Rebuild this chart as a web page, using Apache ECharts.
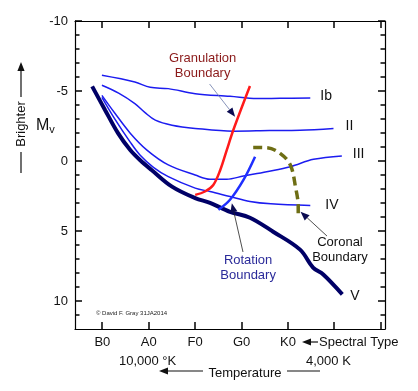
<!DOCTYPE html>
<html><head><meta charset="utf-8">
<script src="https://cdn.jsdelivr.net/npm/echarts@6/dist/echarts.min.js"></script>
<style>html,body{margin:0;padding:0;background:#fff}#c{width:418px;height:391px}</style>
</head><body><div id="c"></div>
<script>
// Spectral type axis (B0=0, A0=1, F0=2, G0=3, K0=4, ...)
const spectralTicks = [0, 1, 2, 3, 4, 5, 6];
const spectralLabels = ['B0', 'A0', 'F0', 'G0', 'K0', '', ''];
const magMajorTicks = [-10, -5, 0, 5, 10];
const magMinorTicks = [-9, -8, -7, -6, -4, -3, -2, -1, 1, 2, 3, 4, 6, 7, 8, 9, 11];

// Luminosity classes: [spectral, Mv]
const classIb = [[-0.01,-6.12],[0.70,-5.64],[1.03,-5.26],[1.42,-5.17],[2.0,-4.81],[2.75,-4.62],[3.33,-4.46],[3.83,-4.48],[4.48,-4.50]];
const classII = [[-0.01,-5.41],[0.35,-4.85],[0.70,-4.10],[0.92,-3.45],[1.14,-2.92],[1.50,-2.56],[2.0,-2.33],[2.82,-2.13],[3.6,-2.17],[4.26,-2.20],[4.98,-2.33]];
const classIII = [[-0.01,-4.69],[0.27,-3.41],[0.60,-1.99],[0.96,-0.78],[1.42,0.28],[2.0,1.00],[2.32,1.30],[2.68,1.30],[3.04,1.07],[3.54,0.76],[4.05,0.41],[4.55,-0.12],[5.16,-0.36]];
const classIV = [[-0.01,-4.55],[0.27,-2.99],[0.60,-1.35],[0.81,-0.43],[1.10,0.45],[1.42,1.12],[2.0,1.94],[2.32,2.18],[2.75,2.54],[3.18,2.89],[3.63,3.06],[4.48,3.18]];
const classV = [[-0.22,-5.33],[0.06,-3.63],[0.34,-1.97],[0.60,-0.78],[0.81,-0.07],[1.06,0.64],[1.50,1.83],[2.0,2.65],[2.32,2.99],[2.75,3.63],[3.18,4.05],[3.68,5.05],[4.26,6.33],[4.54,7.61],[4.76,8.11],[5.17,9.53]];

// Boundaries
const granulation = [[2.0,2.42],[2.21,2.18],[2.39,1.71],[2.54,0.64],[2.68,-0.78],[2.82,-2.20],[3.18,-5.36]];
const rotation = [[2.50,3.49],[2.75,2.77],[3.04,1.35],[3.29,-0.31]];
const coronal = [[3.25,-0.97],[3.54,-0.95],[3.83,-0.55],[4.05,0.28],[4.16,1.83],[4.22,3.25],[4.22,3.84]];

// Annotations (data coordinates): text centre, arrow tail, arrow tip
const annGranulation = {text:'Granulation\nBoundary', at:[2.16,-6.79], from:[2.31,-5.5], to:[2.86,-3.16], color:'#8b1a1a', line:'#6a78a8'};
const annRotation = {text:'Rotation\nBoundary', at:[3.14,7.64], from:[3.03,6.5], to:[2.79,3.02], color:'#2b2b9a', line:'#222'};
const annCoronal = {text:'Coronal\nBoundary', at:[5.12,6.36], from:[4.84,5.36], to:[4.27,3.62], color:'#111', line:'#222'};

const FONT = '"Liberation Sans", Arial, Helvetica, sans-serif';
const X_MIN = -0.59, X_MAX = 6.09, Y_MIN = -10, Y_MAX = 12;
const chart = echarts.init(document.getElementById('c'));

function lineSeries(name, data, color, width, label, off, extra) {
  return Object.assign({
    name, type: 'line', data, smooth: 0.35, showSymbol: false, symbol: 'none',
    xAxisIndex: 0, yAxisIndex: 0,
    lineStyle: {color, width},
    endLabel: label ? {show: true, formatter: label, fontSize: 14, fontFamily: FONT, color: '#111', distance: 0, offset: off} : {show: false},
    z: 3, silent: true, animation: false
  }, extra || {});
}

const axisLine = {show: true, onZero: false, lineStyle: {color: '#000', width: 1.2}};

chart.setOption({
  animation: false,
  grid: {left: 75, right: 33, top: 21, bottom: 62},
  xAxis: [
    {type: 'value', min: X_MIN, max: X_MAX, position: 'bottom', splitLine: {show: false}, axisLine,
      axisTick: {show: false},
      axisLabel: {show: true, customValues: [0,1,2,3,4], margin: 7, fontSize: 13, fontFamily: FONT, color: '#111',
        formatter: v => spectralLabels[Math.round(v)] || ''}},
    {type: 'value', min: X_MIN, max: X_MAX, position: 'top', splitLine: {show: false}, axisLine,
      axisTick: {show: false}, axisLabel: {show: false}}
  ],
  yAxis: [
    {type: 'value', min: Y_MIN, max: Y_MAX, inverse: true, position: 'left', splitLine: {show: false}, axisLine,
      axisTick: {show: false},
      axisLabel: {show: true, customValues: magMajorTicks, margin: 7, fontSize: 13, fontFamily: FONT, color: '#111'}},
    {type: 'value', min: Y_MIN, max: Y_MAX, inverse: true, position: 'right', splitLine: {show: false}, axisLine,
      axisTick: {show: false}, axisLabel: {show: false}}
  ],
  series: [
    lineSeries('Ib', classIb, '#1c1cf0', 1.5, 'Ib', [10, -2]),
    lineSeries('II', classII, '#1c1cf0', 1.5, 'II', [12, -2]),
    lineSeries('III', classIII, '#1c1cf0', 1.5, 'III', [11, -2]),
    lineSeries('IV', classIV, '#1c1cf0', 1.5, 'IV', [15, 0]),
    lineSeries('V', classV, '#000066', 4, 'V', [8, 2], {z: 4}),
    lineSeries('Granulation', granulation, '#ff1a1a', 2.5, null, null, {z: 5}),
    lineSeries('Rotation', rotation, '#1f2fff', 2.5, null, null, {z: 5}),
    lineSeries('Coronal', coronal, '#6e6e14', 3.5, null, null, {z: 5, lineStyle: {color: '#6e6e14', width: 3.5, type: [9, 5]}})
  ]
});

function px(p) { return chart.convertToPixel({gridIndex: 0}, p); }
function arrow(tail, tip, lineColor, headColor, width) {
  const dx = tip[0] - tail[0], dy = tip[1] - tail[1];
  const L = Math.sqrt(dx*dx + dy*dy), ux = dx / L, uy = dy / L;
  const hl = 9, hw = 3.6;
  const bx = tip[0] - ux*hl, by = tip[1] - uy*hl;
  return [
    {type: 'line', shape: {x1: tail[0], y1: tail[1], x2: bx, y2: by}, style: {stroke: lineColor, lineWidth: width}, z: 10},
    {type: 'polygon', shape: {points: [[tip[0], tip[1]], [bx - uy*hw, by + ux*hw], [bx + uy*hw, by - ux*hw]]}, style: {fill: headColor}, z: 10}
  ];
}
const graphics = [];
function tick(x1, y1, x2, y2) {
  graphics.push({type: 'line', shape: {x1, y1, x2, y2}, style: {stroke: '#000', lineWidth: 1.5}, z: 9});
}
// Inward ticks on all four sides, placed through the axis scales
const yTop = px([0, Y_MIN])[1], yBot = px([0, Y_MAX])[1];
const xLeft = px([X_MIN, 0])[0], xRight = px([X_MAX, 0])[0];
spectralTicks.forEach(v => {
  const x = Math.round(px([v, 0])[0]);
  tick(x, yBot, x, yBot - 7);
  tick(x, yTop, x, yTop + 7);
});
magMajorTicks.concat(magMinorTicks).forEach(v => {
  const len = magMajorTicks.indexOf(v) >= 0 ? 7 : 4.5;
  const y = Math.round(px([0, v])[1]);
  tick(xLeft, y, xLeft + len, y);
  tick(xRight, y, xRight - len, y);
});
[annGranulation, annRotation, annCoronal].forEach(a => {
  const c = px(a.at);
  graphics.push({type: 'text', x: c[0], y: c[1], z: 10,
    style: {text: a.text, fill: a.color, font: '13px ' + FONT, align: 'center', verticalAlign: 'middle', lineHeight: 15}});
  graphics.push(...arrow(px(a.from), px(a.to), a.line, '#0a0a50', 0.8));
});
// Axis titles and decorations outside the plot
graphics.push({type: 'text', x: 21, y: 124, rotation: Math.PI / 2, z: 10,
  style: {text: 'Brighter', fill: '#111', font: '13px ' + FONT, align: 'center', verticalAlign: 'middle'}});
graphics.push(...arrow([21, 97], [21, 62], '#111', '#111', 1.2));
graphics.push({type: 'line', shape: {x1: 21, y1: 152, x2: 21, y2: 173}, style: {stroke: '#111', lineWidth: 1.2}});
graphics.push({type: 'text', x: 36, y: 126, z: 10,
  style: {text: '{m|M}{v|v}', font: '16px ' + FONT, verticalAlign: 'middle',
    rich: {m: {fontSize: 16, fontFamily: FONT, fill: '#111'}, v: {fontSize: 11, fontFamily: FONT, fill: '#111', padding: [8, 0, 0, 0]}}}});
graphics.push({type: 'text', x: 319, y: 342, style: {text: 'Spectral Type', fill: '#111', font: '13px ' + FONT, verticalAlign: 'middle'}});
graphics.push(...arrow([318, 342], [302, 342], '#111', '#111', 1.2));
graphics.push({type: 'text', x: 119, y: 361, style: {text: '10,000 °K', fill: '#111', font: '13px ' + FONT, verticalAlign: 'middle'}});
graphics.push({type: 'text', x: 306, y: 361, style: {text: '4,000 K', fill: '#111', font: '13px ' + FONT, verticalAlign: 'middle'}});
graphics.push({type: 'text', x: 245, y: 373, style: {text: 'Temperature', fill: '#111', font: '13px ' + FONT, align: 'center', verticalAlign: 'middle'}});
graphics.push(...arrow([203, 371], [159, 371], '#111', '#111', 1.2));
graphics.push({type: 'line', shape: {x1: 287, y1: 371, x2: 320, y2: 371}, style: {stroke: '#111', lineWidth: 1.2}});
graphics.push({type: 'text', x: 96, y: 313, style: {text: '© David F. Gray 31JA2014', fill: '#222', font: '6px ' + FONT, verticalAlign: 'middle'}});
chart.setOption({graphic: graphics});
</script></body></html>
